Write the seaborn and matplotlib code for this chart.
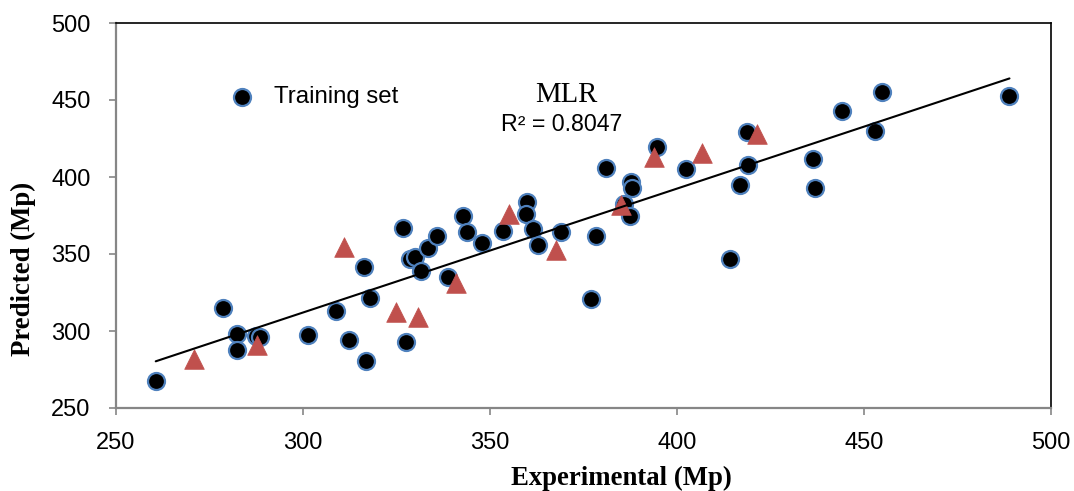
import matplotlib
matplotlib.use("Agg")
import matplotlib.pyplot as plt
import seaborn as sns
import numpy as np
import pandas as pd

# Training set (Experimental, Predicted)
train_exp = [260.7, 278.7, 282.3, 282.5, 287.4, 288.5, 301.5, 308.8, 312.4, 316.8,
             316.3, 317.9, 326.8, 327.5, 328.6, 330.0, 331.5, 333.5, 335.8, 338.8,
             342.8, 343.9, 347.9, 353.5, 359.9, 359.8, 361.5, 362.9, 368.9, 378.5,
             377.0, 381.0, 385.9, 387.8, 387.9, 387.6, 394.8, 402.5, 414.1, 416.9,
             419.0, 418.7, 436.5, 436.8, 444.1, 452.9, 454.8, 488.9]
train_pred = [267.6, 315.1, 298.0, 287.8, 296.9, 296.2, 297.5, 312.7, 294.3, 280.6,
              341.8, 321.6, 367.2, 292.8, 346.8, 348.1, 339.0, 354.2, 362.0, 334.8,
              375.0, 364.1, 357.2, 364.8, 383.9, 375.7, 366.3, 356.1, 364.4, 362.0,
              321.0, 405.7, 382.7, 396.7, 393.0, 374.5, 419.5, 405.2, 346.8, 394.5,
              407.7, 429.5, 411.9, 392.6, 442.9, 429.9, 454.9, 452.7]

# Test set (Experimental, Predicted)
test_exp = [270.9, 287.8, 311.1, 324.8, 330.8, 340.9, 355.0, 367.8, 385.0, 394.0, 406.8, 421.5]
test_pred = [281.7, 291.0, 354.6, 312.3, 309.0, 331.2, 375.7, 352.4, 381.5, 413.2, 415.4, 427.7]

x_ticks = [250, 300, 350, 400, 450, 500]
y_ticks = [250, 300, 350, 400, 450, 500]

train = pd.DataFrame({"Experimental": train_exp, "Predicted": train_pred})
test = pd.DataFrame({"Experimental": test_exp, "Predicted": test_pred})

sns.set_theme(style="white")
plt.rcParams['font.family'] = ['Liberation Sans', 'DejaVu Sans']
plt.rcParams['text.color'] = 'black'
plt.rcParams['axes.labelcolor'] = 'black'
plt.rcParams['xtick.color'] = 'black'
plt.rcParams['ytick.color'] = 'black'

fig = plt.figure(figsize=(10.74, 4.91), dpi=100)
ax = fig.add_axes([115.7 / 1074, (491 - 408) / 491, (1051 - 115.7) / 1074, (408 - 23) / 491])

sns.scatterplot(data=train, x="Experimental", y="Predicted", ax=ax, marker="o",
                s=150, color="black", edgecolor="#4F81BD", linewidth=1.6, zorder=2,
                label="Training set")
sns.scatterplot(data=test, x="Experimental", y="Predicted", ax=ax, marker="^",
                s=200, color="#C0504D", edgecolor="#C0504D", linewidth=0.5, zorder=3)
sns.regplot(data=train, x="Experimental", y="Predicted", ax=ax, scatter=False,
            ci=None, truncate=True, line_kws={"color": "black", "lw": 1.5, "zorder": 4})

ax.set_xlim(250, 500)
ax.set_ylim(250, 500)
ax.set_xticks(x_ticks)
ax.set_yticks(y_ticks)
ax.tick_params(axis="both", which="major", labelsize=17, direction="out",
               length=5, width=1.2, color="#868686", left=True, bottom=True,
               labelcolor="black")
ax.tick_params(axis="y", pad=13)
ax.tick_params(axis="x", pad=12)
for side in ["left", "bottom"]:
    ax.spines[side].set_color("#868686")
    ax.spines[side].set_linewidth(1.6)
for side in ["top", "right"]:
    ax.spines[side].set_color("black")
    ax.spines[side].set_linewidth(1.2)

serif = ["Liberation Serif", "DejaVu Serif"]
ax.set_xlabel("Experimental (Mp)", fontsize=19.3, fontweight="bold", family=serif)
ax.set_ylabel("Predicted (Mp)", fontsize=19.3, fontweight="bold", family=serif)
# label centres in pixels: x-label (621, 478), y-label (23, 269)
ax.xaxis.set_label_coords((621 - 115.7) / 935.3, (408 - 478) / 385)
ax.yaxis.set_label_coords((23 - 115.7) / 935.3, (408 - 269) / 385)
ax.xaxis.label.set_va("center")
ax.yaxis.label.set_va("center")

ax.text(370.5, 453.1, "MLR", fontsize=20.7, family=serif, ha="center", va="center")
ax.text(369.3, 434.2, "R² = 0.8047", fontsize=16.7, ha="center", va="center")

handles, labels = ax.get_legend_handles_labels()
ax.legend(handles=handles[:1], labels=["Training set"], loc="center left",
          bbox_to_anchor=(0.122, 0.808), frameon=False, fontsize=17.3,
          handlelength=1.0, handletextpad=0.85, borderpad=0, borderaxespad=0)

fig.savefig("out.png", dpi=100)
